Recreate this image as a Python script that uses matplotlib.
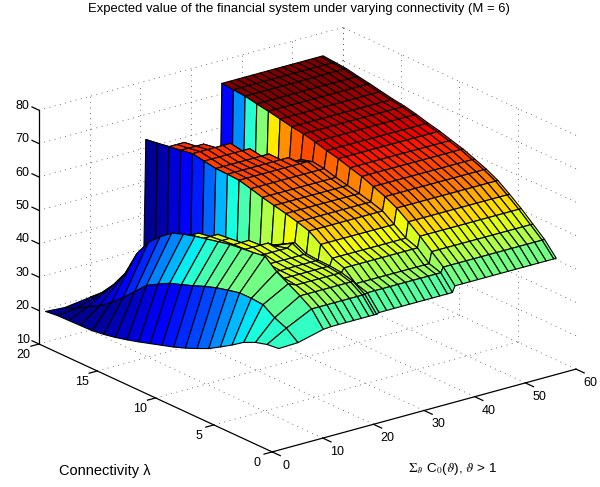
"""Expected value surface, MATLAB-style box and dotted grid (M = 6)."""

import matplotlib

matplotlib.use("Agg")  # headless
import matplotlib.pyplot as plt
import numpy as np
from matplotlib.colors import Normalize
from mpl_toolkits.mplot3d import proj3d
from mpl_toolkits.mplot3d.art3d import Poly3DCollection

plt.rcParams["font.family"] = ["Liberation Sans", "DejaVu Sans"]
plt.rcParams["mathtext.fontset"] = "stix"

TITLE = "Expected value of the financial system under varying connectivity (M = 6)"
X_TICKS = [0, 10, 20, 30, 40, 50, 60]
Y_TICKS = [0, 5, 10, 15, 20]
Z_TICKS = [10, 20, 30, 40, 50, 60, 70, 80]

# connectivity rows, lambda = 0..20
lam = list(range(21))

z_lip = [40.6, 40.2, 39.2, 37.6, 35.2, 33.0, 30.9, 29.3, 27.8, 26.5, 25.4,
         24.3, 23.2, 22.2, 21.3, 20.6, 20.1, 20.0, 19.9, 19.8, 19.4]
z_x5 = [40.8, 43.5, 45.0, 47.3, 47.6, 47.6, 46.8, 45.9, 44.7, 43.3, 42.0,
        40.8, 38.9, 36.9, 33.5, 30.0, 27.0, 24.4, 22.5, 20.3, 19.0]
# colour of the wall above x = 5 runs cooler than its height
c_x5 = [40.8, 43.0, 44.0, 44.5, 45.0, 45.0, 44.5, 43.5, 42.0, 40.0, 38.0,
        35.0, 32.5, 30.0, 27.5, 25.5, 24.0, 22.5, 21.0, 20.0, 19.0]
z_x10 = [42.7, 47.2, 49.5, 51.5, 53.5, 56.5, 56.0, 55.6, 55.2, 54.4, 53.6,
         52.8, 51.8, 50.5, 47.8, 44.5, 39.5, 32.0, 27.0, 23.0, 20.0]
z_ridge_a = [42.9, 47.2, 49.5, 50.5, 50.9, 51.0, 51.3, 52.0, 52.5, 52.3, 51.9,
             51.5, 50.9, 49.0, 32.0, 28.0, 25.0, 23.0, 21.0, 20.0, 20.0]
end_ridge_a = [20, 20, 20, 20, 20, 20, 20, 19, 17.5, 16, 14.5, 14.5, 13, 11.5, 10, 10, 10, 10, 10, 10, 10]
z_trough_a = [42.9, 47.2, 49.5, 50.5, 50.9, 51.0, 51.3, 53.0, 51.0, 49.0, 46.0,
              42.0, 39.0, 35.0, 31.0, 27.0, 25.0, 23.0, 21.0, 20.0, 20.0]
z_ridge_b = [43.2, 47.5, 48.6, 51.7, 53.0, 55.5, 57.9, 59.0, 59.9, 60.7, 61.5,
             62.5, 63.4, 63.6, 63.7, 64.3, 64.9, 64.3, 63.8, 63.2, 62.7]
end_ridge_b = [35, 35, 35, 35, 35, 35, 35, 35, 35, 35, 35, 35, 34.5, 33, 31.5, 30, 28.5, 25.5, 24, 21, 21]
z_trough_b = [43.2, 47.5, 48.6, 51.7, 53.0, 55.5, 57.9, 59.0, 59.9, 60.7, 61.5,
              62.5, 63.0, 62.0, 59.0, 54.0, 46.0, 40.0, 33.0, 26.0, 26.0]
z_plateau = [45.0, 49.0, 52.0, 55.0, 57.7, 60.2, 62.0, 63.4, 64.8, 65.8, 66.9,
             67.7, 68.7, 69.5, 70.0, 70.7, 71.4, 72.0, 72.7, 73.0, 73.3]

x_cols = [1.2, 5, 10, 11.5, 13, 14.5, 16, 17.5, 19, 20, 20.5,
          21, 22.5, 24, 25.5, 27, 28.5, 30, 31.5, 33, 34.5, 35.5,
          36, 37.5, 39, 40.5, 42, 43.5, 45, 46.5, 48, 49.5, 51, 52.5, 54, 55.5, 56]


def build_surface():
    z = np.zeros((len(lam), len(x_cols)))
    for i in lam:
        for j, x in enumerate(x_cols):
            if x == 1.2:
                z[i, j] = z_lip[i]
            elif x == 5:
                z[i, j] = z_x5[i]
            elif x == 10:
                z[i, j] = z_x10[i]
            elif x <= 20:
                z[i, j] = z_ridge_a[i] if x <= end_ridge_a[i] else z_trough_a[i]
            elif x == 20.5:
                z[i, j] = z_trough_a[i]
            elif x <= 35:
                z[i, j] = z_ridge_b[i] if x <= end_ridge_b[i] else z_trough_b[i]
            elif x == 35.5:
                z[i, j] = z_trough_b[i]
            else:
                z[i, j] = z_plateau[i]
    return z


def fit_axes(ax):
    # place the 3d box so the left and right floor corners land on the reference pixels
    m = ax.get_proj()
    xl, yl, _ = proj3d.proj_transform(0, 20, 10, m)
    xr, _, _ = proj3d.proj_transform(60, 0, 10, m)
    side = (576 - 39) / (xr - xl) * 0.185
    left = 39 - side * (xl + 0.095) / 0.185
    bottom = (487 - 344) - side * (yl + 0.095) / 0.185
    ax.set_position([left / 600, bottom / 487, side / 600, side / 487])
    ax.apply_aspect()


def box_text(fig, ax, x, y, z, label, **kw):
    # text goes on the figure at the projected point, the 3d axes overhang the canvas
    xp, yp, _ = proj3d.proj_transform(x, y, z, ax.get_proj())
    px, py = ax.transData.transform((xp, yp))
    fig.text(px / 600, py / 487, label, va="center", fontsize=9, **kw)


def main():
    fig = plt.figure(figsize=(6, 4.87), dpi=100)
    ax = fig.add_axes([0, 0, 1, 1], projection="3d", proj_type="ortho")
    ax.computed_zorder = False
    ax.set_xlim(0, 60, view_margin=0)
    ax.set_ylim(0, 20, view_margin=0)
    ax.set_zlim(10, 80, view_margin=0)
    ax.view_init(elev=20.8, azim=-127.5)
    ax.set_box_aspect((1, 1, 0.653))
    ax.set_axis_off()
    fit_axes(ax)

    # --- dotted grid on the three back planes ---
    grid = dict(color="#444444", lw=0.6, ls=(0, (1, 5.5)), zorder=1)
    for x in X_TICKS[1:]:
        ax.plot([x, x], [0, 20], [10, 10], **grid)
        ax.plot([x, x], [20, 20], [10, 80], **grid)
    for y in Y_TICKS[1:]:
        ax.plot([0, 60], [y, y], [10, 10], **grid)
        ax.plot([60, 60], [y, y], [10, 80], **grid)
    for z in Z_TICKS[1:]:
        ax.plot([0, 60], [20, 20], [z, z], **grid)
        ax.plot([60, 60], [0, 20], [z, z], **grid)

    # --- surface, far cells first, each coloured from its first vertex ---
    z = build_surface()
    cdata = z.copy()
    cdata[:, x_cols.index(5)] = c_x5
    colors = plt.get_cmap("jet")(Normalize(19, 72)(cdata))
    rank = 0
    for i in reversed(lam[:-1]):
        for j in reversed(range(len(x_cols) - 1)):
            cell = [(x_cols[j], lam[i], z[i, j]), (x_cols[j + 1], lam[i], z[i, j + 1]),
                    (x_cols[j + 1], lam[i + 1], z[i + 1, j + 1]), (x_cols[j], lam[i + 1], z[i + 1, j])]
            poly = Poly3DCollection([cell], facecolors=[colors[i, j]], edgecolors="black", linewidths=0.8)
            poly.set_zorder(2 + rank * 1e-4)
            ax.add_collection3d(poly, autolim=False)
            rank += 1

    # --- axes, ticks, labels ---
    solid = dict(color="black", lw=0.9, zorder=3)
    ax.plot([0, 60], [0, 0], [10, 10], **solid)
    ax.plot([0, 0], [0, 20], [10, 10], **solid)
    ax.plot([0, 0], [20, 20], [10, 80], **solid)
    for x in X_TICKS:
        ax.plot([x, x], [0, -0.7], [10, 10], **solid)
        box_text(fig, ax, x, -1.2, 7.8, str(x), ha="center")
    for y in Y_TICKS:
        ax.plot([0, -1.6], [y, y], [10, 10], **solid)
        box_text(fig, ax, -3, y, 7.8, str(y), ha="center")
    for z_tick in Z_TICKS:
        ax.plot([0, 0], [20, 20.6], [z_tick, z_tick], **solid)
        box_text(fig, ax, 0, 20.8, z_tick, str(z_tick), ha="right")

    fig.text(299 / 600, 1 - 9 / 487, TITLE, ha="center", va="center", fontsize=9.4)
    fig.text(59 / 600, 1 - 471 / 487, "Connectivity \u03bb", ha="left", va="center", fontsize=10.5)
    fig.text(408 / 600, 1 - 469 / 487, r"$\Sigma_{\vartheta}$ C$_0$($\vartheta$), $\vartheta$ > 1",
             ha="left", va="center", fontsize=9.7)

    fig.savefig("out.png", dpi=100)
    plt.close(fig)


if __name__ == "__main__":
    main()
